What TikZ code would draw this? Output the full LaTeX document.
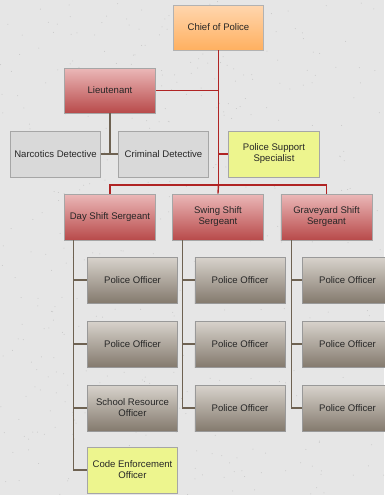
\documentclass[tikz,border=0pt]{standalone}
\usepackage{fontspec}
\setmainfont{Liberation Sans}
\definecolor{chieftop}{HTML}{FFD6AE}
\definecolor{chiefbot}{HTML}{FFB060}
\definecolor{ranktop}{HTML}{EBB8B8}
\definecolor{rankbot}{HTML}{B84A4A}
\definecolor{offtop}{HTML}{D8D3CC}
\definecolor{offbot}{HTML}{847A6E}
\definecolor{detfill}{HTML}{D9D9D9}
\definecolor{suppfill}{HTML}{EDF58E}
\definecolor{cmdline}{HTML}{B02424}
\definecolor{staffline}{HTML}{6E6252}
\definecolor{canvas}{HTML}{E6E6E6}
\begin{document}
\begin{tikzpicture}[x=1bp,y=-1bp,
  box/.style={draw=#1, line width=0.8bp, minimum height=46bp, inner sep=0pt,
    align=center, font=\fontsize{9.6}{11}\selectfont, text=black!85},
  chiefbox/.style={box=black!30, minimum width=90bp, minimum height=45bp,
    top color=chieftop, bottom color=chiefbot},
  rankbox/.style={box=black!35, minimum width=91bp,
    top color=ranktop, bottom color=rankbot},
  officerbox/.style={box=black!40, minimum width=90bp,
    top color=offtop, bottom color=offbot},
  detbox/.style={box=black!35, minimum width=90bp, fill=detfill},
  supportbox/.style={box=black!35, minimum width=91bp, fill=suppfill},
  cmd/.style={draw=cmdline, line width=1.4bp},
  staff/.style={draw=staffline, line width=1.3bp}
]
% canvas
\fill[canvas] (0,0) rectangle (384,495);
\pgfmathsetseed{7}
\foreach \i in {1,...,500}{
  \pgfmathsetmacro{\px}{384*rnd}
  \pgfmathsetmacro{\py}{495*rnd}
  \fill[black!22] (\px,\py) circle (0.5bp);
}
\useasboundingbox (0,0) rectangle (384,495);

% command level
\node[chiefbox] (chief) at (218,27.5) {Chief of Police};
\node[rankbox, minimum height=45bp] (lt) at (109.5,90.5) {Lieutenant};
\node[detbox] (narc) at (55,154) {Narcotics Detective};
\node[detbox] (crim) at (163,154) {Criminal Detective};
\node[supportbox] (supp) at (273.5,154) {Police Support\\Specialist};

% sergeants
\node[rankbox] (day) at (109.5,217) {Day Shift Sergeant};
\node[rankbox] (swing) at (217.5,217) {Swing Shift\\Sergeant};
\node[rankbox] (grave) at (326,217) {Graveyard Shift\\Sergeant};

% day shift
\node[officerbox] (d1) at (132,280) {Police Officer};
\node[officerbox] (d2) at (132,344) {Police Officer};
\node[officerbox] (d3) at (132,408) {School Resource\\Officer};
\node[supportbox, minimum width=90bp] (d4) at (132,470) {Code Enforcement\\Officer};

% swing shift
\node[officerbox] (s1) at (239.5,280) {Police Officer};
\node[officerbox] (s2) at (239.5,344) {Police Officer};
\node[officerbox] (s3) at (239.5,408) {Police Officer};

% graveyard shift
\node[officerbox] (g1) at (347,280) {Police Officer};
\node[officerbox] (g2) at (347,344) {Police Officer};
\node[officerbox] (g3) at (347,408) {Police Officer};

% chain of command
\coordinate (bus) at (218,185);
\draw[cmd] (chief.south) -- (bus);
\draw[cmd] (lt.east) -- (lt.east -| chief.south);
\draw[cmd] (supp.west -| chief.south) -- (supp.west);
\draw[cmd] (day.north) |- (bus) -| (grave.north);
\draw[cmd] (bus) -- (swing.north);

% lieutenant's detectives
\coordinate (ltj) at (lt.south |- narc.east);
\draw[staff] (lt.south) -- (ltj);
\draw[staff] (narc.east) -- (crim.west);

% officers under each sergeant
\coordinate (dv) at (73,240);
\coordinate (sv) at (182,240);
\coordinate (gv) at (291,240);
\draw[staff] (dv) |- (d4.west);
\foreach \n in {d1,d2,d3}{\draw[staff] (dv |- \n.west) -- (\n.west);}
\draw[staff] (sv) |- (s3.west);
\foreach \n in {s1,s2}{\draw[staff] (sv |- \n.west) -- (\n.west);}
\draw[staff] (gv) |- (g3.west);
\foreach \n in {g1,g2}{\draw[staff] (gv |- \n.west) -- (\n.west);}
\end{tikzpicture}
\end{document}
